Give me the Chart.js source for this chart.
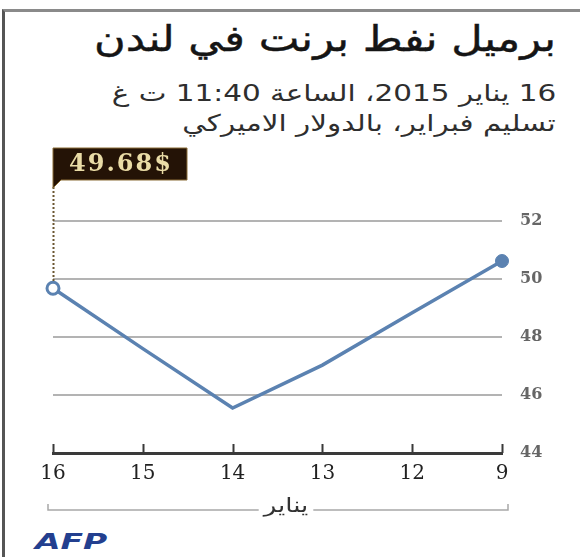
<!DOCTYPE html>
<html lang="ar">
<head>
<meta charset="utf-8">
<script src="https://cdn.jsdelivr.net/npm/chart.js@4/dist/chart.umd.min.js"></script>
<style>
  html, body { margin: 0; padding: 0; background: #fff; }
  body { width: 580px; height: 557px; position: relative; overflow: hidden; }
  #frame {
    position: absolute; left: 2px; top: 9px; width: 600px; height: 600px;
    border-top: 3px solid #8a8a8a; border-left: 3px solid #555;
  }
  .ar { position: absolute; right: 24px; direction: rtl; white-space: nowrap;
        font-family: "DejaVu Sans", sans-serif; color: #1a1a1a; transform-origin: right center; }
  #title { top: 18px; font-size: 36px; transform: scaleX(1.2); color: #151515; -webkit-text-stroke: 0.4px #151515; }
  #sub1 { top: 80px; font-size: 23px; color: #2e2e2e; transform: scaleX(1.28); }
  #sub2 { top: 110px; font-size: 23px; color: #2e2e2e; transform: scaleX(1.28); }
  #afp { position: absolute; left: 35px; top: 529px; font-family: "DejaVu Sans", sans-serif;
         font-weight: bold; font-style: italic; font-size: 22px; color: #233f8f;
         transform: scaleX(1.5); transform-origin: left center; }
  canvas { position: absolute; left: 0; top: 0; }
</style>
</head>
<body>
<div id="frame"></div>
<div class="ar" id="title">برميل نفط برنت في لندن</div>
<div class="ar" id="sub1">16 يناير 2015، الساعة 11:40 ت غ</div>
<div class="ar" id="sub2">تسليم فبراير، بالدولار الاميركي</div>
<div id="afp">AFP</div>
<canvas id="grafico" width="580" height="557"></canvas>
<script>
// يناير 2015 - days, right to left in the original (newest first)
const dias = ["16", "15", "14", "13", "12", "9"];
const precos = [49.68, 47.6, 45.55, 47.03, 48.84, 50.62];
const ticksY = [44, 46, 48, 50, 52];
const rotuloPreco = "49.68$";
const rotuloMes = "يناير";

const azul = "#5b82b1";

const decoracao = {
    id: "decoracao",
    afterDraw(chart) {
        const ctx = chart.ctx;
        const x = chart.scales.x;
        const y = chart.scales.y;

        ctx.save();

        // small tick marks going up from the axis
        ctx.strokeStyle = "#3a3a3a";
        ctx.lineWidth = 2;
        ctx.beginPath();
        x.ticks.forEach((t, i) => {
            const px = Math.round(x.getPixelForTick(i)) + 0.5;
            ctx.moveTo(px, y.bottom);
            ctx.lineTo(px, y.bottom - 9);
        });
        ctx.stroke();

        // bracket with month name
        const by = 510;
        const bl = x.left - 5;
        const br = x.right + 6;
        ctx.strokeStyle = "#a8a8a8";
        ctx.lineWidth = 1.5;
        ctx.beginPath();
        ctx.moveTo(bl, by - 6);
        ctx.lineTo(bl, by);
        ctx.lineTo(br, by);
        ctx.lineTo(br, by - 6);
        ctx.stroke();
        ctx.font = "20px 'DejaVu Sans'";
        const mid = (bl + br) / 2 + 8;
        const w = ctx.measureText(rotuloMes).width * 1.3;
        ctx.fillStyle = "#fff";
        ctx.fillRect(mid - w / 2 - 5, by - 12, w + 10, 24);
        ctx.save();
        ctx.translate(mid, by - 3);
        ctx.scale(1.3, 1);
        ctx.fillStyle = "#333";
        ctx.textAlign = "center";
        ctx.textBaseline = "middle";
        ctx.fillText(rotuloMes, 0, 0);
        ctx.restore();

        // callout for the latest price
        const p = chart.getDatasetMeta(0).data[0];
        const cx = Math.round(p.x) + 0.5;
        ctx.strokeStyle = "#6b5630";
        ctx.lineWidth = 2;
        ctx.setLineDash([2, 2]);
        ctx.beginPath();
        ctx.moveTo(cx, 187);
        ctx.lineTo(cx, p.y - 7);
        ctx.stroke();
        ctx.setLineDash([]);

        const bx = p.x, bt = 148, bw = 134, bh = 32;
        ctx.fillStyle = "#241306";
        ctx.beginPath();
        ctx.moveTo(bx, bt);
        ctx.lineTo(bx + bw, bt);
        ctx.lineTo(bx + bw, bt + bh);
        ctx.lineTo(bx + 8, bt + bh);
        ctx.lineTo(bx, bt + bh + 8);
        ctx.closePath();
        ctx.fill();
        ctx.strokeStyle = "#8a6d36";
        ctx.lineWidth = 1;
        ctx.stroke();
        ctx.fillStyle = "#eadca6";
        ctx.font = "bold 24px 'DejaVu Serif'";
        ctx.letterSpacing = "2px";
        ctx.textAlign = "center";
        ctx.textBaseline = "middle";
        ctx.fillText(rotuloPreco, bx + bw / 2 + 1, bt + bh / 2 + 1);

        ctx.restore();
    }
};

new Chart(document.getElementById("grafico"), {
    type: "line",
    data: {
        labels: dias,
        datasets: [{
            data: precos,
            borderColor: azul,
            borderWidth: 3.5,
            tension: 0,
            clip: false,
            pointRadius: [6, 0, 0, 0, 0, 6.5],
            pointBorderWidth: [3, 0, 0, 0, 0, 1],
            pointBackgroundColor: ["#fff", azul, azul, azul, azul, azul],
            pointBorderColor: azul
        }]
    },
    options: {
        responsive: false,
        animation: false,
        layout: {
            padding: { left: 53, right: 20, top: 221, bottom: 64 }
        },
        plugins: {
            legend: { display: false },
            tooltip: { enabled: false }
        },
        scales: {
            x: {
                offset: false,
                afterFit(s) { s.height = 40; },
                grid: { drawOnChartArea: false, drawTicks: false },
                border: { display: true, color: "#3a3a3a", width: 3 },
                ticks: {
                    padding: 9,
                    color: "#222",
                    font: { family: "DejaVu Serif", size: 20 },
                    maxRotation: 0
                }
            },
            y: {
                position: "right",
                min: 44,
                max: 52,
                afterFit(s) { s.width = 58; },
                afterBuildTicks(s) { s.ticks = ticksY.map(v => ({ value: v })); },
                grid: { color: "#b3b3b3", lineWidth: 2, drawTicks: false },
                border: { display: false },
                ticks: {
                    padding: 18,
                    color: "#666",
                    font: { family: "DejaVu Serif", size: 16, weight: "bold" }
                }
            }
        }
    },
    plugins: [decoracao]
});
</script>
</body>
</html>
